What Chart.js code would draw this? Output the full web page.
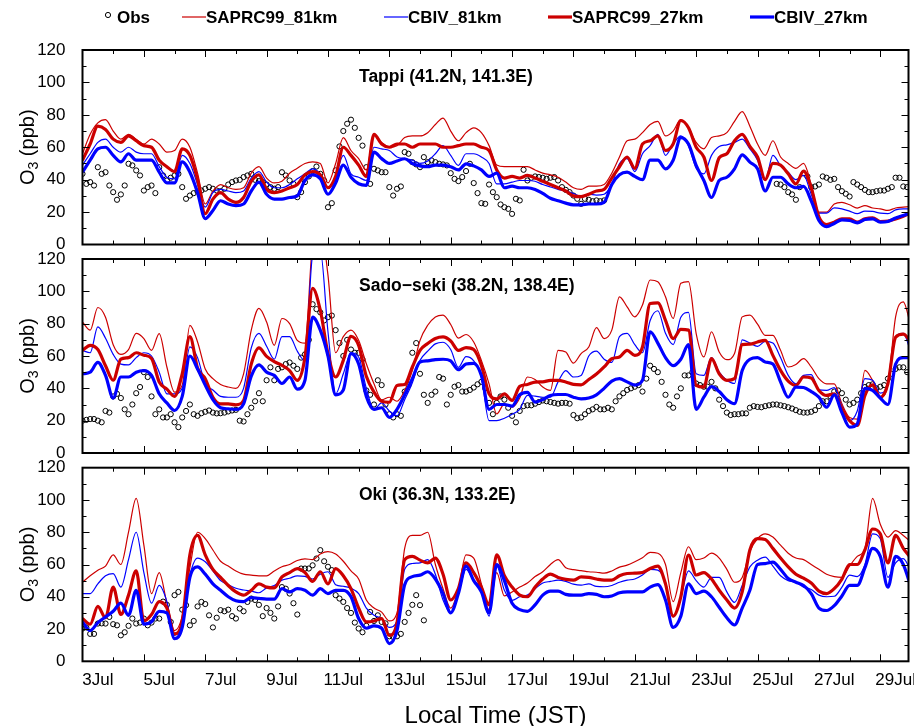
<!DOCTYPE html>
<html>
<head>
<meta charset="utf-8">
<script src="https://cdn.jsdelivr.net/npm/chart.js@4.4.1/dist/chart.umd.min.js"></script>
<style>
  html, body { margin: 0; padding: 0; background: #fff; }
  #wrap { position: relative; width: 914px; height: 726px; }
  #wrap canvas { position: absolute; left: 0; top: 0; }
</style>
</head>
<body>
<div id="wrap">
  <canvas id="p1" width="914" height="726"></canvas>
  <canvas id="p2" width="914" height="726"></canvas>
  <canvas id="p3" width="914" height="726"></canvas>
</div>
<script>
// time axis in days since 3 Jul 00:00 JST
const dayLabels = ["3Jul", "5Jul", "7Jul", "9Jul", "11Jul", "13Jul", "15Jul",
  "17Jul", "19Jul", "21Jul", "23Jul", "25Jul", "27Jul", "29Jul"];
const modelStep = 0.25;   // model values every 6 h
const obsStep = 0.125;    // obs values every 3 h

// ---- Tappi (41.2N, 141.3E) ----
const tappiS81 = [
  56, 68, 75, 77,  70, 65, 68, 65,  62, 65, 62, 57,  58, 65, 60, 44,
  25, 33, 37, 35,  34, 35, 44, 48,  41, 38, 39, 44,  47, 50, 51, 50,
  38, 50, 66, 58,  53, 46, 68, 63,  60, 61, 66, 67,  67, 69, 74, 78,
  70, 64, 69, 72,  69, 61, 49, 48,  48, 48, 48, 46,  44, 43, 41.5, 38.5,
  35, 34, 36, 36,  37, 44, 54, 64,  65, 69, 74, 76,  67, 70, 77, 72,
  63, 59, 66, 67,  69, 76, 82, 73,  62, 55, 64, 54,  50, 47, 50, 37,
  20, 20, 25, 26,  24.5, 22.5, 24, 22.5,  22, 21, 22.5, 23,  23.5];
const tappiC81 = [
  49, 56, 63, 65,  60, 57, 60, 57,  56, 56, 48, 41.5,  40.5, 55, 50, 37,
  23, 32, 34, 33,  32, 33, 41, 45,  38.5, 35, 35, 37,  40.5, 43.6, 46.7, 43.6,
  35, 42, 55, 43.6,  41.5, 39.5, 60, 59,  58, 54, 53, 52,  50, 51.5, 56, 61,
  55, 48.8, 56, 56,  54, 50, 37.4, 37.4,  38.5, 39.5, 39.5, 39,  37, 35.5, 34, 33,
  31.5, 29.5, 31, 30.5,  31, 37.4, 49.8, 53,  45, 56, 61, 68,  55, 62, 67, 61,
  47, 43.6, 55, 60.5,  61.5, 63, 65, 59,  52, 39.5, 55, 48.8,  44.6, 40, 42.6, 31,
  19.3, 19.3, 22.6, 22,  20.6, 19, 20.6, 20.4,  19.3, 19, 21.4, 22,  22];
const tappiS27 = [
  52, 62, 73, 71,  65, 63, 67, 64,  61, 60, 52, 48,  45, 59, 55, 40,
  19, 28, 32, 28,  26, 29, 39, 43,  34, 32, 33, 35,  37, 43, 45, 43,
  35, 42, 60, 55,  49, 42, 68, 62,  60, 62, 62, 60,  62, 62, 62, 60,
  60, 61, 62, 62,  60, 58, 46, 41,  42, 41, 42.6, 41,  39, 37, 35, 33,
  30, 29.5, 31, 33,  34, 41, 48, 54,  47, 62, 64, 67,  58, 62, 76.5, 72,
  60, 54, 39.5, 53.5,  56, 64, 68, 60.5,  54, 40, 50, 49,  43.6, 37.4, 45.3, 35,
  17, 12.3, 13.8, 15.8,  15.8, 13.8, 15.8, 16.5,  14.2, 14.4, 15.8, 17.5,  19.5];
const tappiC27 = [
  44.6, 52, 59, 60,  55, 51, 56, 52,  52, 52, 44.6, 38,  38, 51, 44.6, 32,
  16, 21, 27, 25,  24, 25, 33, 38.5,  31, 28, 28, 29,  30, 39.5, 43, 40.5,
  31, 38, 49, 41.5,  37.5, 36.5, 57, 53,  50, 51.5, 52.9, 50,  48.5, 48, 49, 49,
  48, 46, 49.8, 48.5,  46, 42, 44, 35,  36, 35, 35, 34,  31.5, 28.5, 27, 25.5,
  24.5, 24.5, 25, 25,  26, 37, 43, 44.6,  42, 40, 52, 52,  46.7, 52, 66, 62,
  48.8, 39.5, 29, 39.5,  41.5, 46.7, 55.3, 50.8,  46.7, 33, 41.5, 41.5,  37.4, 35, 35.8, 27,
  14.8, 11, 13, 15.2,  14.8, 13.4, 15.4, 15.8,  13.8, 14.2, 16.3, 17.9,  19.5];
const tappiObsStartA = 0;
const tappiObsA = [
  43.6, 37.4, 38.5, 36.4, 47.7, 43.6, 44.6, 36.4,
  32.3, 27.6, 30.9, 36.4, 49.8, 48.8, 45.7, 42.6,
  33.3, 35.4, 36.4, 31.7, 47.7, 42.6, 39.5, 41.2,
  42.6, 43.6, 35.4, 28.2, 30.2, 31.7, 32.7, 33.3,
  34.4, 35.4, 34.4, 33.3, 32.9, 34.4, 37, 38.5,
  39.5, 39.9, 41.6, 42.6, 43.6, 39.9, 39.1, 38.5,
  37, 35.4, 34.4, 35.4, 44.6, 42.6, 39.5, 37.4,
  29.2, 32.3, 38.5, 42, 45.3, 48.1, 43.6, 39.5,
  23, 25.5, 45.7, 60.5, 70, 74.5, 77, 72,
  65.8, 61, 47.7, 37.4, 46.7, 45.7, 44.6, 44.6,
  35.4, 30.2, 34.4, 35.8, 57, 56, 50.8, 49.4,
  47.7, 53.9, 50.8, 51.9, 50.8, 49.8, 49.4, 48.8,
  44, 40.5, 39.1, 41.6, 45.3, 49.8, 37.9, 31.7,
  25.5, 25.1, 37, 32.3, 29.2, 24.7, 23, 22,
  18.9, 28.2, 27.2, 46.1, 39.5, 41.2, 42, 41.6,
  41.2, 40.5, 41.2, 41.6, 39.5, 35.4, 33.7, 32.3,
  30.2, 28.2, 25.1, 28.2, 27.6, 26.7, 27.2, 26.7,
  27.2];
const tappiObsStartB = 22.625;
const tappiObsB = [
  37.4, 37, 35.4, 32.3, 30.9, 27.6, 35.4, 44, 42, 35.4, 35.8, 37,
  42, 41.2, 39.9, 40.5, 35.4, 32.9, 31.3, 29.6, 38.5, 37, 35.4, 33.7,
  32.3, 32.3, 32.9, 33.3, 33.3, 34.4, 35.4, 41.2, 41.2, 35.8, 35.4];

// ---- Sado-seki (38.2N, 138.4E) ----
const sadoS81 = [
  81, 76, 90, 84,  67, 61, 64, 74,  70.8, 63.5, 73.9, 53.2,  37.7, 42, 79, 68.7,
  52, 46, 42.4, 40.8,  40, 49, 76, 89.4,  81, 66.6, 83.2, 80,  69.7, 68, 130, 140,
  110, 62, 72, 76,  69.7, 55.2, 42.8, 32.9,  34.5, 32, 38.7, 51.1,  69.7, 79, 84.2, 85.3,
  79.5, 71, 73.3, 68.7,  57.3, 42.8, 24.2, 30.4,  28.3, 34, 47, 45.5,  40.8, 38.7, 63.5, 62.5,
  55.6, 61.5, 65.6, 77.6,  70.8, 76, 96.6, 90.4,  84.2, 91.5, 107, 106,  96.6, 83.2, 105, 106,
  73.9, 59.4, 75, 62.5,  57.7, 61.5, 84.2, 85.3,  79.7, 72.8, 72.8, 63.5,  53.2, 54.8, 58.4, 53.2,
  46, 42.8, 42.8, 30.4,  22, 21, 51.1, 44.9,  34.5, 42.8, 84.2, 93.5,  78];
const sadoC81 = [
  63.5, 62, 78, 71,  61, 55, 54.5, 59,  62, 60, 50, 36.6,  36.6, 40, 65.6, 59,
  42.8, 39, 35, 34.5,  34.5, 40, 65, 74,  66, 58, 72, 72,  63, 57, 122, 125,
  75, 36.6, 49, 62,  59.4, 40, 27, 31,  26, 23, 33, 43.5,  57.3, 63, 67.5, 68.5,
  64, 53, 59.6, 57,  47, 20, 20, 21.5,  24, 27, 35.6, 35.2,  34.5, 34.5, 44, 51,
  47, 48, 60, 63,  58, 56, 72, 74,  67, 62, 82, 88,  74, 67, 84, 87,
  49, 48, 59, 50,  45, 43, 70, 68,  66, 69, 68, 59,  48, 42.8, 48, 48.5,
  39, 38.7, 40.5, 29,  20, 26, 46, 45,  37, 43, 72, 74,  62];
const sadoS27 = [
  63.5, 66.6, 64, 54,  45, 58, 59, 62,  60.5, 58.5, 43.9, 39.5,  35, 49, 72, 52.5,
  46, 34.5, 30.4, 30.4,  29.8, 32.5, 55, 65,  59.8, 56.5, 54.2, 51,  44.9, 59, 101.8, 88.3,
  61.5, 47, 57.3, 72.2,  66.6, 47.4, 37.7, 32,  31.4, 41.8, 42.4, 53.2,  63.5, 67.7, 70.8, 71.8,
  69.3, 63.5, 65.2, 64,  54.2, 36.6, 33.5, 36.6,  32.5, 41.2, 42.4, 43.9,  44, 44.9, 44.9, 43.9,
  42.4, 42.2, 45.5, 48.8,  53.2, 58.3, 59.4, 63.5,  60.4, 65.6, 92.5, 92.9,  82.1, 70.8, 76.5, 76,
  41.8, 40.8, 58.4, 49,  44.9, 46, 67, 67.3,  68.7, 69.7, 60.4, 51.1,  44.5, 41.8, 47, 46.4,
  38.7, 35.6, 36.6, 27.3,  20, 17, 35.6, 42.2,  34.5, 43, 71.6, 73.5,  68.7];
const sadoC27 = [
  49, 50, 56, 48,  34, 47, 47, 50,  51, 48, 36.6, 31,  26.3, 35, 60, 52,
  42, 33, 28, 27.3,  27, 30.4, 47.5, 54.5,  50, 48, 43, 47,  39.5, 45, 84, 76,
  60, 36, 39, 61.5,  55, 35, 27, 28,  22, 27, 36, 46,  56.3, 57, 57.8, 58,
  57, 51.5, 55, 55.5,  48, 27, 30, 30,  29, 36, 37.5, 31.5,  33, 35.6, 36.2, 36.2,
  34.5, 33.5, 34, 36,  40, 44.5, 46, 44,  42, 45, 75, 68,  59, 54, 58, 67,
  27, 34.5, 41, 38,  33, 30.5, 51, 58,  59, 56.3, 55, 44,  34.5, 40.8, 40.5, 38,
  34.5, 28.3, 36, 25,  16, 18, 40, 38.7,  34, 30, 55, 59,  59];
const sadoObsStart = 0;
const sadoObs = [
  20, 20.5, 21, 21, 20, 19, 26, 25,
  35, 36.6, 34, 27, 24, 30, 37, 40.8,
  50, 47, 35, 24, 27, 22, 22, 24,
  19, 16, 22, 26, 30, 24, 23, 24.6,
  25.5, 26.3, 25, 24.5, 24.6, 25, 25.7, 26.3,
  26.7, 20, 19.5, 24, 28, 32, 37, 32,
  45, 53, 45, 52, 53, 55, 56, 54,
  52, 59, 61, 70, 92, 89, 87, 82,
  84, 85, 76, 68, 60, 70, 64, 62,
  62, 58, 38.7, 36, 30, 45, 42, 30,
  24, 22, 24, 23, 38, 42, 62, 68,
  49, 36, 31, 36, 38, 47, 46, 30,
  36, 41, 42, 38, 38, 39, 40.5, 42.5,
  44, 40, 31, 24, 31, 35, 33, 28,
  23, 19, 26, 29, 29.5, 29.5, 30.5, 31.5,
  32.5, 32, 31.5, 31, 30.5, 31, 31, 30.5,
  23.5, 21.5, 22, 24, 26, 27, 28.5, 27,
  27, 28, 27, 32, 35, 37, 39, 40,
  41, 42, 38, 46, 54, 52, 50, 44,
  36, 30, 28, 35, 40, 48, 48, 50,
  43, 42, 41, 41, 44, 40, 33, 29,
  25, 23.5, 24, 24, 24.5, 24.5, 28, 29,
  28.5, 28.3, 29, 29.5, 30, 30, 29.5, 29,
  28.3, 27.5, 26.5, 25.5, 25, 25, 25.5, 26.5,
  29, 32, 32, 35, 38, 38.7, 37, 33,
  30, 31, 33, 37, 40.8, 42, 42.5, 40,
  41, 42, 46, 49, 52, 53, 53, 50];

// ---- Oki (36.3N, 133.2E) ----
const okiS81 = [
  49, 53, 56.5, 59,  66, 60, 80, 101,  72, 42, 55, 36,  19, 28, 58, 80,
  76, 69, 62, 59,  56, 54, 53.4, 53,  53, 56, 58.6, 60,  62.5, 63.5, 63, 66.5,
  68, 66.5, 62, 56,  51, 38, 33, 30.5,  25, 30, 70, 78,  78, 80, 60, 45,
  33, 45, 66, 64,  48, 32, 55, 40.5,  43, 46, 48.5, 52.5,  55.5, 60, 63, 58,
  56.8, 56.2, 55.5, 55.2,  54.6, 56, 58.4, 59.6,  61.7, 64.2, 67.5, 67,  60, 37, 55, 71,
  63, 64, 67, 64,  57, 49, 52, 68,  76, 79, 77, 72,  67, 64, 63, 60,
  57, 54, 52.5, 52,  59, 65, 70, 101,  85, 77, 81, 78,  74];
const okiC81 = [
  42, 42, 48, 53,  54.4, 46, 63, 80,  55, 36, 47, 37,  16, 24.5, 53.4, 64,
  61.7, 56, 50, 47.5,  45.3, 44.2, 43.5, 42.5,  45.5, 47, 50.3, 51.5,  53, 52.6, 51, 54,
  55.5, 47.5, 46.5, 45.3,  42, 33, 28.5, 26.5,  21, 25, 57, 60.6,  61, 63, 54, 38,
  30, 42, 57, 50,  45, 28, 59, 44,  37.8, 40, 41, 45,  48.5, 49.5, 50.3, 49.5,
  47.8, 47.2, 48, 46.4,  46.2, 47, 49, 50.3,  51, 53.5, 57, 56.5,  49, 27.5, 40, 56,
  50, 46, 52, 52,  43, 36.5, 47, 58.5,  62.7, 64.6, 59, 53,  50, 49, 46, 44.5,
  41, 40, 40.3, 46,  53.4, 52.5, 60, 79,  76, 52, 61, 63.7,  56];
const okiS27 = [
  26.5, 23, 34, 27,  46, 29, 41, 56,  25, 29, 37, 33,  17, 25, 66, 78,
  66, 57, 52, 47,  43, 41, 44, 48,  46, 45.5, 52.3, 55,  57.5, 55, 49.5, 55.5,
  48, 57.5, 53, 45,  33, 24.4, 25, 26.5,  16, 24, 63, 65,  62.7, 61, 64, 54,
  38, 45, 61, 55,  46, 35, 66, 53,  46, 41, 40, 46,  51, 54, 52, 50.8,
  50.3, 52.3, 52, 51,  50.3, 50.3, 53, 54.4,  54.6, 55, 57.5, 59,  48, 28, 40, 65.8,
  53.5, 55, 51, 44,  38, 33, 43, 69,  76, 75.5, 70, 64,  58.5, 54, 51.5, 48.5,
  43.5, 42, 45, 51,  60, 60, 69, 82,  79, 61, 78, 70,  64];
const okiC27 = [
  24.4, 19, 24, 27.5,  31, 36, 28.5, 44,  23, 24.5, 31, 30,  14, 21, 52, 58.5,
  54, 48, 44, 40,  37.5, 37, 39.5, 39,  38.5, 38.5, 45, 43,  45, 44, 41, 45,
  42, 44, 44, 40,  26.5, 20.5, 22, 20.5,  11, 19, 47.5, 52.5,  53.4, 55.5, 51, 42,
  30, 42, 59, 50,  43, 30, 60, 50,  36, 32, 31, 35,  41, 43.5, 43.5, 41.5,
  41, 41, 42, 41.5,  40, 40.5, 42.5, 43,  43, 43, 46, 47.5,  38, 21, 28, 48,
  42, 43.5, 40, 33.5,  27, 22.5, 33, 44,  60, 60.6, 61.5, 57,  51.3, 49, 47, 42,
  33, 31.5, 34.5, 40.5,  47, 47, 58, 70,  65, 46, 65, 60,  46];
const okiObsStart = 0;
const okiObs = [
  20.3, 21, 17, 17, 23.4, 23.5, 23.4, 27.5,
  23, 22.3, 16.1, 18, 22, 26.5, 23.4, 24,
  26.5, 22.3, 24, 26.5, 26.5, 37, 35, 24.4,
  41, 43, 32, 34.8, 22.3, 25, 34, 36.8,
  35.5, 28.5, 21, 27, 31.7, 31, 32, 28,
  26.5, 32.7, 31, 36.8, 38.9, 38, 35, 28,
  33, 30, 26.5, 34, 46, 45, 42, 36,
  29, 57.5, 57.5, 57.5, 59.5, 63.7, 68.9, 62,
  58.6, 56.5, 41, 38.9, 36.8, 33, 30, 24,
  20.3, 18, 22, 30.6, 25, 28.5, 24.4, 23.5,
  15.5, 15.1, 15.5, 17, 24.4, 30, 35, 41,
  34.8, 25.4];

// ---- styling ----
const RED = "rgb(204,0,0)";
const BLUE = "rgb(0,0,255)";
const FONT = "'Liberation Sans', Arial, Helvetica, sans-serif";
Chart.defaults.font.family = FONT;
Chart.defaults.color = "#000";

function pts(values, start, step) {
  return values.map((v, i) => ({ x: start + i * step, y: v }));
}

const framePlugin = {
  id: "frame",
  afterDatasetsDraw(chart) {
    const { ctx, chartArea: a, scales: { x, y } } = chart;
    ctx.save();
    ctx.strokeStyle = "#000";
    ctx.lineWidth = 1;
    ctx.beginPath();
    for (let v = 10; v < 120; v += 10) {
      const py = Math.round(y.getPixelForValue(v)) + 0.5;
      const len = v % 20 === 0 ? 7 : 4;
      ctx.moveTo(a.left, py); ctx.lineTo(a.left + len, py);
      ctx.moveTo(a.right, py); ctx.lineTo(a.right - len, py);
    }
    for (let d = 1; d <= 26; d++) {
      const px = Math.round(x.getPixelForValue(d)) + 0.5;
      const len = d % 2 === 0 ? 7 : 4;
      ctx.moveTo(px, a.bottom); ctx.lineTo(px, a.bottom - len);
      ctx.moveTo(px, a.top); ctx.lineTo(px, a.top + len);
    }
    ctx.stroke();
    ctx.lineWidth = 2;
    ctx.strokeRect(a.left, a.top, a.right - a.left, a.bottom - a.top);
    ctx.restore();
  },
  afterDraw(chart, args, opts) {
    const { ctx, chartArea: a } = chart;
    ctx.save();
    ctx.fillStyle = "#000";
    // panel title
    ctx.font = "bold 17.5px " + FONT;
    ctx.textBaseline = "alphabetic";
    ctx.textAlign = "left";
    ctx.fillText(opts.title, 359, a.top + 32);
    // y-axis title O3 (ppb), rotated
    const cy = (a.top + a.bottom) / 2;
    ctx.translate(28, cy);
    ctx.rotate(-Math.PI / 2);
    ctx.textBaseline = "middle";
    ctx.font = "20px " + FONT;
    const wO = ctx.measureText("O").width;
    const wR = ctx.measureText(" (ppb)").width;
    ctx.font = "14px " + FONT;
    const w3 = ctx.measureText("3").width;
    let sx = -(wO + w3 + wR) / 2;
    ctx.font = "20px " + FONT;
    ctx.fillText("O", sx, 0);
    ctx.font = "14px " + FONT;
    ctx.fillText("3", sx + wO, 6);
    ctx.font = "20px " + FONT;
    ctx.fillText(" (ppb)", sx + wO + w3, 0);
    ctx.restore();
    if (opts.xTitle) {
      ctx.save();
      ctx.font = "24px " + FONT;
      ctx.fillStyle = "#000";
      ctx.textAlign = "center";
      ctx.textBaseline = "middle";
      ctx.fillText(opts.xTitle, (a.left + a.right) / 2, 716);
      ctx.restore();
    }
    if (opts.legend) drawLegend(ctx);
  }
};

function drawLegend(ctx) {
  ctx.save();
  ctx.font = "bold 17px " + FONT;
  ctx.fillStyle = "#000";
  ctx.textBaseline = "middle";
  ctx.textAlign = "left";
  const ly = 18;
  // Obs marker
  ctx.strokeStyle = "#000";
  ctx.lineWidth = 1;
  ctx.beginPath();
  ctx.arc(108, 15, 2.6, 0, Math.PI * 2);
  ctx.stroke();
  ctx.fillText("Obs", 117, ly);
  const items = [
    { text: "SAPRC99_81km", color: RED, w: 1.2, x: 182 },
    { text: "CBIV_81km", color: BLUE, w: 1.2, x: 384 },
    { text: "SAPRC99_27km", color: RED, w: 3.2, x: 548 },
    { text: "CBIV_27km", color: BLUE, w: 3.2, x: 750 }
  ];
  items.forEach(it => {
    ctx.strokeStyle = it.color;
    ctx.lineWidth = it.w;
    ctx.beginPath();
    ctx.moveTo(it.x, ly - 1);
    ctx.lineTo(it.x + 24, ly - 1);
    ctx.stroke();
    ctx.fillText(it.text, it.x + 24, ly);
  });
  ctx.restore();
}

function makePanel(id, cfg) {
  const line = (label, values, color, width, order) => ({
    label,
    data: pts(values, 0, modelStep),
    borderColor: color,
    borderWidth: width,
    pointRadius: 0,
    fill: false,
    cubicInterpolationMode: "monotone",
    order
  });
  const obsSets = cfg.obs.map(o => ({
    label: "Obs",
    data: pts(o.values, o.start, obsStep),
    showLine: false,
    pointStyle: "circle",
    pointRadius: 2.6,
    pointBorderWidth: 1,
    pointBorderColor: "#000",
    pointBackgroundColor: "rgba(0,0,0,0)",
    order: 5
  }));

  new Chart(document.getElementById(id), {
    type: "line",
    data: {
      datasets: [
        line("CBIV_27km", cfg.c27, BLUE, 3.2, 1),
        line("SAPRC99_27km", cfg.s27, RED, 3.2, 2),
        line("CBIV_81km", cfg.c81, BLUE, 1.2, 3),
        line("SAPRC99_81km", cfg.s81, RED, 1.2, 4),
        ...obsSets
      ]
    },
    options: {
      responsive: false,
      animation: false,
      devicePixelRatio: 1,
      events: [],
      layout: { padding: { left: 0, right: 914 - 908.5, top: cfg.top, bottom: 0 } },
      plugins: {
        legend: { display: false },
        tooltip: { enabled: false },
        frame: { title: cfg.title, legend: cfg.legend, xTitle: cfg.xTitle }
      },
      scales: {
        x: {
          type: "linear",
          min: 0,
          max: 26.92,
          grid: { display: false },
          border: { display: false },
          afterBuildTicks: s => { s.ticks = dayLabels.map((_, i) => ({ value: 0.5 + 2 * i })); },
          afterFit: s => { s.height = 726 - cfg.bottom; s.paddingLeft = 0; s.paddingRight = 0; },
          ticks: {
            display: cfg.xLabels,
            autoSkip: false,
            maxRotation: 0,
            minRotation: 0,
            padding: 1,
            font: { size: 17 },
            callback: (v, i) => dayLabels[i]
          }
        },
        y: {
          min: 0,
          max: 120,
          grid: { display: false },
          border: { display: false },
          afterFit: s => { s.width = 82.5; },
          ticks: { stepSize: 20, padding: 9, font: { size: 17 } }
        }
      }
    },
    plugins: [framePlugin]
  });
}

makePanel("p1", {
  top: 50, bottom: 244.5, title: "Tappi (41.2N, 141.3E)", legend: true, xLabels: false,
  s81: tappiS81, c81: tappiC81, s27: tappiS27, c27: tappiC27,
  obs: [{ start: tappiObsStartA, values: tappiObsA }, { start: tappiObsStartB, values: tappiObsB }]
});
makePanel("p2", {
  top: 259, bottom: 453, title: "Sado\u2212seki (38.2N, 138.4E)", legend: false, xLabels: false,
  s81: sadoS81, c81: sadoC81, s27: sadoS27, c27: sadoC27,
  obs: [{ start: sadoObsStart, values: sadoObs }]
});
makePanel("p3", {
  top: 467.7, bottom: 661.3, title: "Oki (36.3N, 133.2E)", legend: false, xLabels: true,
  xTitle: "Local Time (JST)",
  s81: okiS81, c81: okiC81, s27: okiS27, c27: okiC27,
  obs: [{ start: okiObsStart, values: okiObs }]
});
</script>
</body>
</html>
